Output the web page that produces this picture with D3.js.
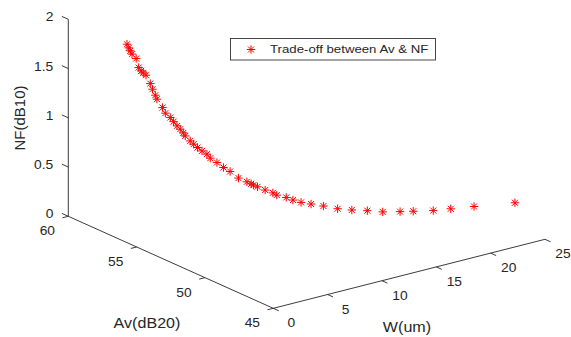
<!DOCTYPE html>
<html>
<head>
<meta charset="utf-8">
<script src="https://cdn.jsdelivr.net/npm/d3@7"></script>
<style>
  body { margin: 0; background: #fff; }
</style>
</head>
<body>
<script>
// trade-off points: W (um), Av (dB20), NF (dB10)
const widthW = [1.00, 1.11, 1.20, 1.31, 1.57, 1.72, 1.88, 2.01, 2.17, 2.44,
  2.58, 2.75, 2.85, 3.20, 3.37, 3.68, 3.88, 4.09, 4.29, 4.48,
  4.60, 4.91, 5.12, 5.36, 5.64, 5.94, 6.15, 6.56, 6.97, 7.38,
  7.90, 8.42, 8.68, 8.82, 9.07, 9.55, 10.02, 10.27, 10.85, 11.26,
  11.77, 12.39, 13.15, 14.03, 14.91, 15.87, 16.82, 17.89, 18.71, 19.95,
  21.03, 22.47, 25.00];
const gainAv = [56.50, 56.46, 56.42, 56.38, 56.28, 56.22, 56.16, 56.11, 56.04, 55.94,
  55.89, 55.82, 55.78, 55.65, 55.58, 55.46, 55.38, 55.30, 55.22, 55.15,
  55.10, 54.98, 54.90, 54.81, 54.70, 54.58, 54.50, 54.34, 54.19, 54.03,
  53.83, 53.63, 53.52, 53.47, 53.37, 53.19, 53.00, 52.91, 52.68, 52.52,
  52.33, 52.09, 51.79, 51.45, 51.11, 50.74, 50.37, 49.95, 49.64, 49.16,
  48.74, 48.18, 47.20];
const noiseNF = [1.937, 1.899, 1.869, 1.835, 1.789, 1.697, 1.663, 1.642, 1.618, 1.532,
  1.474, 1.413, 1.372, 1.285, 1.228, 1.182, 1.140, 1.096, 1.062, 1.023,
  0.992, 0.940, 0.906, 0.871, 0.836, 0.802, 0.760, 0.714, 0.662, 0.620,
  0.551, 0.511, 0.490, 0.476, 0.458, 0.423, 0.393, 0.369, 0.343, 0.315,
  0.289, 0.270, 0.247, 0.216, 0.200, 0.189, 0.173, 0.172, 0.172, 0.174,
  0.188, 0.206, 0.234];

const wTicks = [0, 5, 10, 15, 20, 25];
const avTicks = [45, 50, 55, 60];
const nfTicks = [0, 0.5, 1, 1.5, 2];
const legendLabel = "Trade-off between Av & NF";

const svg = d3.select("body").append("svg")
    .attr("width", 571)
    .attr("height", 337)
    .style("font-family", "Arial, 'Liberation Sans', sans-serif");

// each axis maps to [0,1] along its edge of the 3-D box
const wScale = d3.scaleLinear().domain([0, 25]).range([0, 1]);
const avScale = d3.scaleLinear().domain([45, 60]).range([0, 1]);
const nfScale = d3.scaleLinear().domain([0, 2]).range([0, 1]);

const origin = [273.3, 308.3];
const eW = [271.7, -69];
const eAv = [-205, -92];
const eNF = [0, -197];

function project(w, av, nf) {
  const a = wScale(w), b = avScale(av), c = nfScale(nf);
  return [origin[0] + a * eW[0] + b * eAv[0] + c * eNF[0],
          origin[1] + a * eW[1] + b * eAv[1] + c * eNF[1]];
}

function unit(v) {
  const l = Math.hypot(v[0], v[1]);
  return [v[0] / l, v[1] / l];
}

const axisColor = "#262626";
const textColor = "#262626";

function line(p, q) {
  svg.append("line")
    .attr("x1", p[0]).attr("y1", p[1])
    .attr("x2", q[0]).attr("y2", q[1])
    .attr("stroke", axisColor)
    .attr("stroke-width", 0.9);
}

function label(x, y, txt, size, anchor, sx) {
  svg.append("text")
    .attr("transform", `translate(${x},${y}) scale(${sx || 1.15},1)`)
    .attr("text-anchor", anchor)
    .attr("dominant-baseline", "central")
    .attr("font-size", size)
    .attr("fill", textColor)
    .text(txt);
}

// axis lines
line(project(0, 60, 0), project(0, 60, 2));
line(project(0, 45, 0), project(0, 60, 0));
line(project(0, 45, 0), project(25, 45, 0));

// NF ticks: point outward along +Av
const uAv = unit(eAv);
nfTicks.forEach(t => {
  const p = project(0, 60, t);
  line(p, [p[0] + uAv[0] * 7, p[1] + uAv[1] * 7]);
  label(p[0] - 15, p[1] - 2, t, 12, "end");
});

// Av ticks: point outward along -W
const uW = unit(eW);
avTicks.forEach(t => {
  const p = project(0, t, 0);
  line(p, [p[0] - uW[0] * 6, p[1] - uW[1] * 6]);
  label(p[0] - 21, p[1] + 15, t, 12, "middle");
});

// W ticks: point outward along -Av
wTicks.forEach(t => {
  const p = project(t, 45, 0);
  line(p, [p[0] - uAv[0] * 6, p[1] - uAv[1] * 6]);
  label(p[0] + 18, p[1] + 15, t, 12, "middle");
});

// axis titles
svg.append("text")
  .attr("transform", "translate(19,118) rotate(-90)")
  .attr("text-anchor", "middle")
  .attr("dominant-baseline", "central")
  .attr("font-size", 15)
  .attr("fill", textColor)
  .text("NF(dB10)");
label(147, 323, "Av(dB20)", 14, "middle");
label(407, 327, "W(um)", 14, "middle");

// asterisk marker like MATLAB '*'
const r = 4.2, k = 3;
const star = `M${-r},0H${r}M0,${-r}V${r}M${-k},${-k}L${k},${k}M${-k},${k}L${k},${-k}`;

const points = widthW.map((w, i) => project(w, gainAv[i], noiseNF[i]));

svg.append("g").selectAll("path")
  .data(points)
  .enter()
  .append("path")
  .attr("transform", d => `translate(${d[0]},${d[1]})`)
  .attr("d", star)
  .attr("fill", "none")
  .attr("stroke", "#ff0000")
  .attr("stroke-width", 1);

// legend
const lg = svg.append("g");
lg.append("rect")
  .attr("x", 230.5).attr("y", 38.5)
  .attr("width", 205).attr("height", 21.5)
  .attr("fill", "#fff")
  .attr("stroke", "#333")
  .attr("stroke-width", 0.9);
lg.append("path")
  .attr("transform", "translate(251,49.5)")
  .attr("d", star)
  .attr("fill", "none")
  .attr("stroke", "#ff0000")
  .attr("stroke-width", 1);
svg.append("text")
  .attr("transform", "translate(270,49.5) scale(1.15,1)")
  .attr("dominant-baseline", "central")
  .attr("font-size", 11.5)
  .attr("fill", textColor)
  .text(legendLabel);
</script>
</body>
</html>
